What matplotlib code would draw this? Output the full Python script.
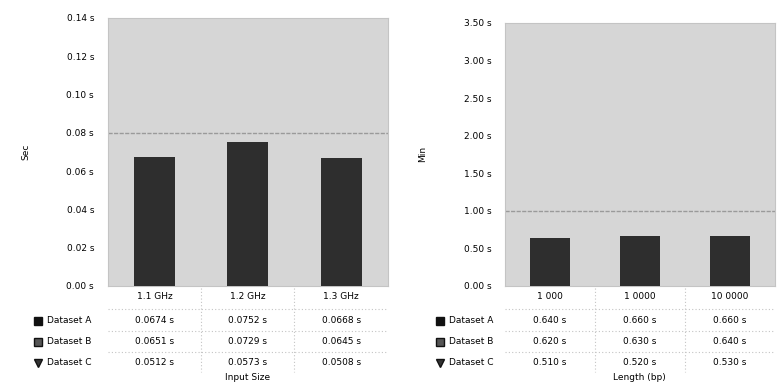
import matplotlib
matplotlib.use("Agg")
import matplotlib.pyplot as plt
import matplotlib.transforms as mtransforms
from matplotlib.lines import Line2D

# ---------------- data ----------------
left_categories = ["1.1 GHz", "1.2 GHz", "1.3 GHz"]
left_series_names = ["Dataset A", "Dataset B", "Dataset C"]
left_a = [0.0674, 0.0752, 0.0668]
left_b = [0.0651, 0.0729, 0.0645]
left_c = [0.0512, 0.0573, 0.0508]
left_ticks = [0.00, 0.02, 0.04, 0.06, 0.08, 0.10, 0.12, 0.14]
left_ref = 0.08

right_categories = ["1 000", "1 0000", "10 0000"]
right_series_names = ["Dataset A", "Dataset B", "Dataset C"]
right_a = [0.64, 0.66, 0.66]
right_b = [0.62, 0.63, 0.64]
right_c = [0.51, 0.52, 0.53]
right_ticks = [0.0, 0.5, 1.0, 1.5, 2.0, 2.5, 3.0, 3.5]
right_ref = 1.0

BG = "#d6d6d6"
BAR = "#2e2e2e"
GRID = "#9a9a9a"
EDGE = "#c4c4c4"
FS = 6.5

fig = plt.figure(figsize=(7.77, 3.88), dpi=100)
ax1 = fig.add_axes([0.139, 0.263, 0.360, 0.691])
ax2 = fig.add_axes([0.650, 0.263, 0.347, 0.678])

markers = ["s", "s", "v"]
marker_faces = ["#111111", "#555555", "#333333"]


def draw_panel(ax, cats, names, series, ticks, ref, ylabel, xlabel, fmt, cell_fmt, row_x_fig):
    x = list(range(len(cats)))
    ax.set_facecolor(BG)
    ax.bar(x, series[0], width=0.44, color=BAR, zorder=3)
    ax.axhline(ref, color=GRID, lw=1.0, ls=(0, (3, 1)), zorder=2)
    ax.set_xlim(-0.5, len(cats) - 0.5)
    ax.set_ylim(ticks[0], ticks[-1])
    ax.set_yticks(ticks)
    ax.set_yticklabels([fmt.format(t) for t in ticks], fontsize=FS)
    ax.set_xticks([])
    ax.tick_params(axis="y", length=0, pad=10)
    for s in ax.spines.values():
        s.set_color(EDGE)
        s.set_linewidth(0.8)
    ax.set_ylabel(ylabel, fontsize=FS, labelpad=26)

    trans = mtransforms.blended_transform_factory(ax.transData, ax.transAxes)
    h = ax.get_position().height * fig.get_figheight() * fig.dpi
    def ya(py):
        return -py / h
    header_y = ya(11)
    row_ys = [ya(35), ya(56), ya(77)]
    for j, c in enumerate(cats):
        ax.text(j, header_y, c, transform=trans, ha="center", va="center",
                fontsize=FS, clip_on=False)
        for i, s in enumerate(series):
            ax.text(j, row_ys[i], cell_fmt.format(s[j]), transform=trans, ha="center",
                    va="center", fontsize=FS, clip_on=False)
    for xb in [k + 0.5 for k in range(len(cats) - 1)]:
        ax.plot([xb, xb], [ya(2), ya(86)], transform=trans, color=EDGE, lw=0.8,
                ls=(0, (1, 2)), clip_on=False)
    for yb in [ya(23), ya(45), ya(66)]:
        ax.plot([-0.5, len(cats) - 0.5], [yb, yb], transform=trans, color=EDGE,
                lw=0.8, ls=(0, (1, 2)), clip_on=False)
    ffig = fig.transFigure
    axpos = ax.get_position()
    for i, n in enumerate(names):
        yfig = axpos.y0 + row_ys[i] * axpos.height
        fig.add_artist(Line2D([row_x_fig], [yfig], marker=markers[i], ms=5.5,
                              mfc=marker_faces[i], mec="#111111", mew=1.0,
                              ls="none", transform=ffig))
        fig.text(row_x_fig + 0.012, yfig, n, fontsize=FS, ha="left", va="center")
    ax.text(0.5, ya(92), xlabel, transform=ax.transAxes, ha="center",
            va="center", fontsize=FS, clip_on=False)


draw_panel(ax1, left_categories, left_series_names, [left_a, left_b, left_c],
           left_ticks, left_ref, "Sec", "Input Size", "{:.2f} s", "{:.4f} s", 0.049)
draw_panel(ax2, right_categories, right_series_names, [right_a, right_b, right_c],
           right_ticks, right_ref, "Min", "Length (bp)", "{:.2f} s", "{:.3f} s", 0.566)

fig.savefig("out.png", dpi=100)
